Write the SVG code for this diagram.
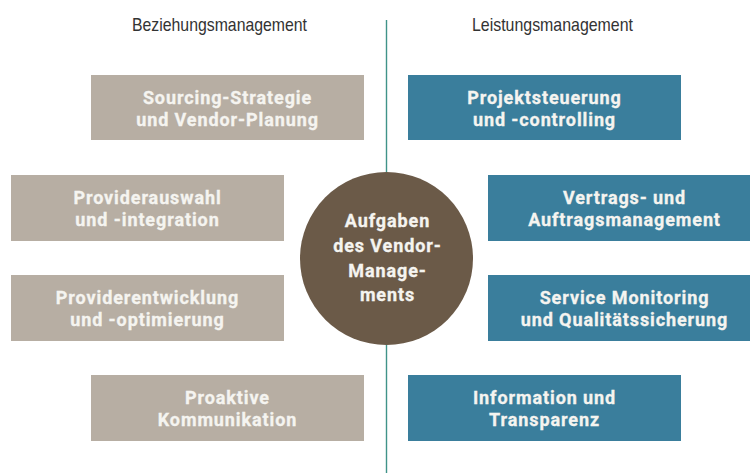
<svg xmlns="http://www.w3.org/2000/svg" width="750" height="473" viewBox="0 0 750 473">
  <style>
    .bg { fill: #ffffff; }
    .head { font-family: "Liberation Sans Narrow", "Liberation Sans", Arial, sans-serif; font-size: 18.5px; fill: #333333; text-anchor: middle; }
    .grey { fill: #b7aea3; }
    .blue { fill: #3a7e9c; }
    .hub { fill: #6b5a48; }
    .lbl { font-family: Roboto, "Liberation Sans", Arial, sans-serif; font-size: 18px; font-weight: 700; letter-spacing: 0.9px; fill: #f5f4f0; stroke: #f5f4f0; stroke-width: 0.3; text-anchor: middle; }
    .axis { stroke: #3f9389; stroke-width: 1.4; fill: none; }
  </style>
  <rect class="bg" x="0" y="0" width="750" height="473"/>

  <!-- column headings -->
  <text class="head" x="219.5" y="31" textLength="175" lengthAdjust="spacingAndGlyphs">Beziehungsmanagement</text>
  <text class="head" x="552.5" y="31" textLength="161" lengthAdjust="spacingAndGlyphs">Leistungsmanagement</text>

  <!-- connectors: central axis -->
  <g id="connectors">
    <line class="axis" x1="386.5" y1="20" x2="386.5" y2="473"/>
  </g>

  <!-- left column -->
  <g id="sourcing">
    <rect class="grey" x="91" y="75" width="273" height="65"/>
    <text class="lbl" x="227.5" y="104">Sourcing-Strategie</text>
    <text class="lbl" x="227.5" y="126">und Vendor-Planung</text>
  </g>
  <g id="providerauswahl">
    <rect class="grey" x="11" y="175" width="273" height="66"/>
    <text class="lbl" x="147.5" y="203.5">Providerauswahl</text>
    <text class="lbl" x="147.5" y="225.5">und -integration</text>
  </g>
  <g id="providerentwicklung">
    <rect class="grey" x="11" y="275" width="273" height="66"/>
    <text class="lbl" x="147.5" y="303.5">Providerentwicklung</text>
    <text class="lbl" x="147.5" y="325.5">und -optimierung</text>
  </g>
  <g id="kommunikation">
    <rect class="grey" x="91" y="375" width="273" height="66"/>
    <text class="lbl" x="227.5" y="403.5">Proaktive</text>
    <text class="lbl" x="227.5" y="425.5">Kommunikation</text>
  </g>

  <!-- right column -->
  <g id="projektsteuerung">
    <rect class="blue" x="408" y="75" width="273" height="65"/>
    <text class="lbl" x="544.5" y="104">Projektsteuerung</text>
    <text class="lbl" x="544.5" y="126">und -controlling</text>
  </g>
  <g id="vertragsmanagement">
    <rect class="blue" x="488" y="175" width="262" height="66"/>
    <text class="lbl" x="624.5" y="203.5">Vertrags- und</text>
    <text class="lbl" x="624.5" y="225.5">Auftragsmanagement</text>
  </g>
  <g id="monitoring">
    <rect class="blue" x="488" y="275" width="262" height="66"/>
    <text class="lbl" x="624.5" y="303.5">Service Monitoring</text>
    <text class="lbl" x="624.5" y="325.5">und Qualitätssicherung</text>
  </g>
  <g id="transparenz">
    <rect class="blue" x="408" y="375" width="273" height="66"/>
    <text class="lbl" x="544.5" y="403.5">Information und</text>
    <text class="lbl" x="544.5" y="425.5">Transparenz</text>
  </g>

  <!-- central hub -->
  <g id="vendor-management">
    <circle class="hub" cx="386.5" cy="258.5" r="86.5"/>
    <text class="lbl" x="387.5" y="226.5">Aufgaben</text>
    <text class="lbl" x="387.5" y="251.5">des Vendor-</text>
    <text class="lbl" x="387.5" y="276.5">Manage-</text>
    <text class="lbl" x="387.5" y="301">ments</text>
  </g>
</svg>
